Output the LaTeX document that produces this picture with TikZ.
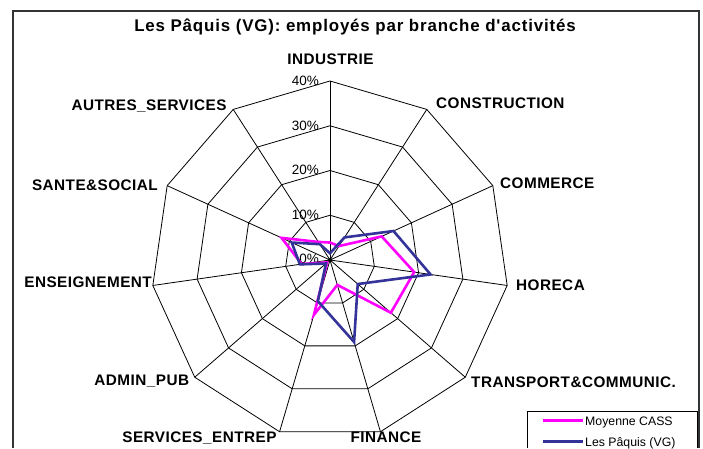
\documentclass[tikz,border=0pt]{standalone}
\usepackage{fontspec}
\setmainfont{Liberation Sans}
\newfontfamily\lblfont[LetterSpace=3]{Liberation Sans}
\newfontfamily\ttlfont[LetterSpace=5]{Liberation Sans}
\definecolor{cassmag}{HTML}{FF00FF}
\definecolor{paqblue}{HTML}{333399}
\begin{document}
\begin{tikzpicture}[x=1pt,y=1pt,
  grid/.style={draw=black,line width=0.8pt},
  axislbl/.style={font=\lblfont\bfseries\fontsize{15.3}{17}\selectfont,inner sep=0pt,text height=11.2pt,text depth=0pt},
  ticklbl/.style={font=\fontsize{13.5}{15}\selectfont,inner sep=0pt,anchor=east,text height=9.7pt,text depth=0pt},
  magpen/.style={draw=cassmag,line width=2.6pt,line join=miter},
  bluepen/.style={draw=paqblue,line width=2.6pt,line join=miter},
  legtxt/.style={font=\fontsize{12.3}{14}\selectfont,inner sep=0pt,anchor=west,text height=8.8pt,text depth=0pt}]
\useasboundingbox (0,0) rectangle (703,448);
\fill[white] (0,0) rectangle (703,448);
% frame
\draw[line width=1.4pt,black!80] (13,0) -- (13,437) -- (699,437) -- (699,0);
% title
\node[font=\ttlfont\bfseries\fontsize{16.9}{19}\selectfont,inner sep=0pt] (title) at (355,421) {Les Pâquis (VG): employés par branche d'activités};
\coordinate (C) at (330,188);
% axis vertices
\foreach \i in {0,...,10}{
  \coordinate (v\i) at ([shift={(C)}]{90-\i*360/11}:179);
  \foreach \k in {1,2,3}{
    \coordinate (g\k-\i) at ([shift={(C)}]{90-\i*360/11}:{\k*44.75});
  }
}
% grid polygons
\foreach \k in {1,2,3}{
  \draw[grid] (g\k-0) -- (g\k-1) -- (g\k-2) -- (g\k-3) -- (g\k-4) -- (g\k-5) -- (g\k-6) -- (g\k-7) -- (g\k-8) -- (g\k-9) -- (g\k-10) -- cycle;
}
\draw[grid] (v0) -- (v1) -- (v2) -- (v3) -- (v4) -- (v5) -- (v6) -- (v7) -- (v8) -- (v9) -- (v10) -- cycle;
\foreach \i in {0,...,10}{ \draw[grid] (C) -- (v\i); }
% tick labels
\node[ticklbl] (t0) at (319,189) {0\%};
\node[ticklbl] (t1) at (319,233.5) {10\%};
\node[ticklbl] (t2) at (319,278) {20\%};
\node[ticklbl] (t3) at (319,322.5) {30\%};
\node[ticklbl] (t4) at (319,367) {40\%};
% data
\foreach \v [count=\i from 0] in {3.9,3.7,12.7,19,18,5.8,12.8,0.8,6.4,11.9,4.8}{
  \coordinate (m\i) at ([shift={(C)}]{90-\i*360/11}:{\v*4.475});
}
\foreach \v [count=\i from 0] in {1.5,6,15.6,22.7,8.2,19.1,9.6,1.2,6.8,9.4,4.2}{
  \coordinate (b\i) at ([shift={(C)}]{90-\i*360/11}:{\v*4.475});
}
\draw[magpen] (m0) -- (m1) -- (m2) -- (m3) -- (m4) -- (m5) -- (m6) -- (m7) -- (m8) -- (m9) -- (m10) -- cycle;
\draw[bluepen] (b0) -- (b1) -- (b2) -- (b3) -- (b4) -- (b5) -- (b6) -- (b7) -- (b8) -- (b9) -- (b10) -- cycle;
\fill[black] (C) circle (2pt);
% axis labels
\node[axislbl] (l0) at (330.5,389) {INDUSTRIE};
\node[axislbl,anchor=west] (l1) at (436,345) {CONSTRUCTION};
\node[axislbl,anchor=west] (l2) at (500,265.3) {COMMERCE};
\node[axislbl,anchor=west] (l3) at (516,163) {HORECA};
\node[axislbl,anchor=west] (l4) at (471,66) {TRANSPORT\&COMMUNIC.};
\node[axislbl] (l5) at (386,11) {FINANCE};
\node[axislbl,anchor=east] (l6) at (276.7,11.3) {SERVICES\_ENTREP};
\node[axislbl,anchor=east] (l7) at (189.3,68) {ADMIN\_PUB};
\node[axislbl,anchor=east] (l8) at (152,166) {ENSEIGNEMENT};
\node[axislbl,anchor=east] (l9) at (158,263) {SANTE\&SOCIAL};
\node[axislbl,anchor=east] (l10) at (226.7,343) {AUTRES\_SERVICES};
% legend
\draw[line width=1pt,black] (527,0) -- (527,36.3) -- (697.5,36.3) -- (697.5,0);
\coordinate (lm1) at (542.7,27.3);
\coordinate (lm2) at (583.3,27.3);
\coordinate (lb1) at (542.7,6.3);
\coordinate (lb2) at (583.3,6.3);
\draw[magpen] (lm1) -- (lm2);
\draw[bluepen] (lb1) -- (lb2);
\node[legtxt] (legm) at (585,27.3) {Moyenne CASS};
\node[legtxt] (legb) at (585,6.3) {Les Pâquis (VG)};
\end{tikzpicture}
\end{document}
